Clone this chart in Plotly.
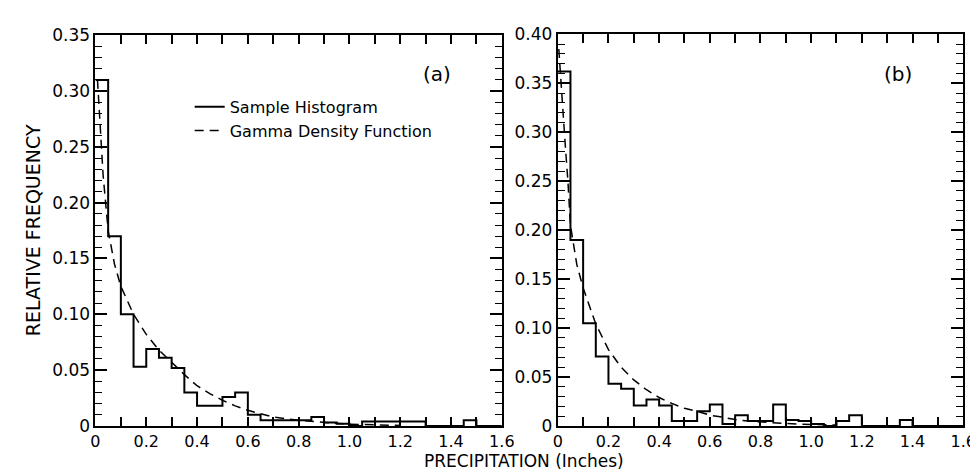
import plotly.graph_objects as go

# ---------------- data ----------------
bin_edges = [round(i * 0.05, 2) for i in range(33)]  # 0 .. 1.6

hist_a = [0.310, 0.170, 0.100, 0.053, 0.069, 0.061, 0.052, 0.030,
          0.018, 0.018, 0.026, 0.030, 0.010, 0.005, 0.005, 0.005,
          0.005, 0.008, 0.003, 0.002, 0.000, 0.004, 0.004, 0.004,
          0.004, 0.004, 0.000, 0.000, 0.000, 0.005, 0.000, 0.000]

hist_b = [0.362, 0.190, 0.105, 0.071, 0.043, 0.038, 0.021, 0.027,
          0.021, 0.005, 0.005, 0.015, 0.022, 0.002, 0.011, 0.005,
          0.005, 0.022, 0.006, 0.005, 0.002, 0.000, 0.005, 0.011,
          0.000, 0.000, 0.000, 0.006, 0.000, 0.000, 0.000, 0.000]

gamma_a_x = [0.008, 0.02, 0.03, 0.05, 0.075, 0.1, 0.15, 0.2, 0.25, 0.3, 0.35,
             0.4, 0.45, 0.5, 0.55, 0.6, 0.65, 0.7, 0.8, 0.9, 1.0, 1.1, 1.2]
gamma_a_y = [0.310, 0.260, 0.225, 0.175, 0.145, 0.125, 0.100, 0.082, 0.068,
             0.057, 0.046, 0.036, 0.029, 0.023, 0.018, 0.014, 0.011, 0.008,
             0.005, 0.003, 0.0015, 0.001, 0.0005]

gamma_b_x = [0.004, 0.01, 0.02, 0.03, 0.04, 0.05, 0.075, 0.1, 0.15, 0.2, 0.25,
             0.3, 0.35, 0.4, 0.45, 0.5, 0.55, 0.6, 0.65, 0.7, 0.75, 0.8, 0.9,
             1.0, 1.1]
gamma_b_y = [0.385, 0.360, 0.320, 0.285, 0.250, 0.205, 0.165, 0.141, 0.104,
             0.078, 0.060, 0.047, 0.037, 0.029, 0.023, 0.018, 0.015, 0.011,
             0.009, 0.0065, 0.005, 0.004, 0.0025, 0.0015, 0.001]

x_tickvals = [0, 0.2, 0.4, 0.6, 0.8, 1.0, 1.2, 1.4, 1.6]
x_ticktext = ["0", "0.2", "0.4", "0.6", "0.8", "1.0", "1.2", "1.4", "1.6"]
ya_tickvals = [0, 0.05, 0.10, 0.15, 0.20, 0.25, 0.30, 0.35]
ya_ticktext = ["0", "0.05", "0.10", "0.15", "0.20", "0.25", "0.30", "0.35"]
yb_tickvals = [0, 0.05, 0.10, 0.15, 0.20, 0.25, 0.30, 0.35, 0.40]
yb_ticktext = ["0", "0.05", "0.10", "0.15", "0.20", "0.25", "0.30", "0.35", "0.40"]

# ---------------- figure ----------------
FONT = "DejaVu Sans"
W, H = 978, 472

fig = go.Figure()

fig.add_trace(go.Scatter(x=bin_edges, y=hist_a + [0], mode="lines", line_shape="hv",
                         line=dict(color="black", width=2), name="Sample Histogram",
                         xaxis="x", yaxis="y", showlegend=True, cliponaxis=False))
fig.add_trace(go.Scatter(x=gamma_a_x, y=gamma_a_y, mode="lines",
                         line=dict(color="black", width=1.5, dash="9px,6px"),
                         name="Gamma Density Function", xaxis="x", yaxis="y",
                         showlegend=True))
fig.add_trace(go.Scatter(x=bin_edges, y=hist_b + [0], mode="lines", line_shape="hv",
                         line=dict(color="black", width=2), name="Sample Histogram",
                         xaxis="x2", yaxis="y2", showlegend=False, cliponaxis=False))
fig.add_trace(go.Scatter(x=gamma_b_x, y=gamma_b_y, mode="lines",
                         line=dict(color="black", width=1.5, dash="9px,6px"),
                         name="Gamma Density Function", xaxis="x2", yaxis="y2",
                         showlegend=False))

def xax(domain, anchor):
    return dict(domain=domain, anchor=anchor, range=[0, 1.6],
                showline=True, linecolor="black", linewidth=2, mirror="allticks",
                ticks="inside", ticklen=9, tickwidth=1.5, tickcolor="black",
                tickvals=x_tickvals, ticktext=x_ticktext,
                minor=dict(dtick=0.1, tick0=0, ticks="inside", ticklen=9,
                           tickwidth=1.5, tickcolor="black"),
                showgrid=False, zeroline=False,
                tickfont=dict(family=FONT, size=16, color="black"))

def yax(domain, anchor, rng, vals, text):
    return dict(domain=domain, anchor=anchor, range=rng,
                showline=True, linecolor="black", linewidth=2, mirror="allticks",
                ticks="inside", ticklen=12, tickwidth=1.5, tickcolor="black",
                tickvals=vals, ticktext=text,
                minor=dict(dtick=0.01, tick0=0, ticks="inside", ticklen=7,
                           tickwidth=1.2, tickcolor="black"),
                showgrid=False, zeroline=False,
                tickfont=dict(family=FONT, size=17, color="black"))

fig.update_layout(
    width=W, height=H, autosize=False,
    margin=dict(l=0, r=0, t=0, b=0),
    paper_bgcolor="white", plot_bgcolor="white",
    xaxis=xax([84 / W, 498 / W], "y"),
    yaxis=yax([(H - 426) / H, (H - 18) / H], "x", [0, 0.35], ya_tickvals, ya_ticktext),
    xaxis2=xax([555 / W, 968 / W], "y2"),
    yaxis2=yax([(H - 426) / H, (H - 17) / H], "x2", [0, 0.40], yb_tickvals, yb_ticktext),
    legend=dict(x=180 / W, y=(H - 75) / H, xanchor="left", yanchor="top",
                bgcolor="rgba(0,0,0,0)", font=dict(family=FONT, size=16, color="black"),
                tracegroupgap=0),
    showlegend=True,
    annotations=[
        dict(text="(a)", x=432 / W, y=(H - 58) / H, xref="paper", yref="paper",
             xanchor="center", yanchor="middle", showarrow=False,
             font=dict(family=FONT, size=20, color="black")),
        dict(text="(b)", x=902 / W, y=(H - 58) / H, xref="paper", yref="paper",
             xanchor="center", yanchor="middle", showarrow=False,
             font=dict(family=FONT, size=20, color="black")),
        dict(text="RELATIVE FREQUENCY", x=20 / W, y=(H - 222) / H, xref="paper",
             yref="paper", xanchor="center", yanchor="middle", showarrow=False,
             textangle=-90, font=dict(family=FONT, size=19, color="black")),
        dict(text="PRECIPITATION (Inches)", x=521 / W, y=(H - 463) / H, xref="paper",
             yref="paper", xanchor="center", yanchor="middle", showarrow=False,
             font=dict(family=FONT, size=17, color="black")),
    ],
)

fig.write_html("out.html")
